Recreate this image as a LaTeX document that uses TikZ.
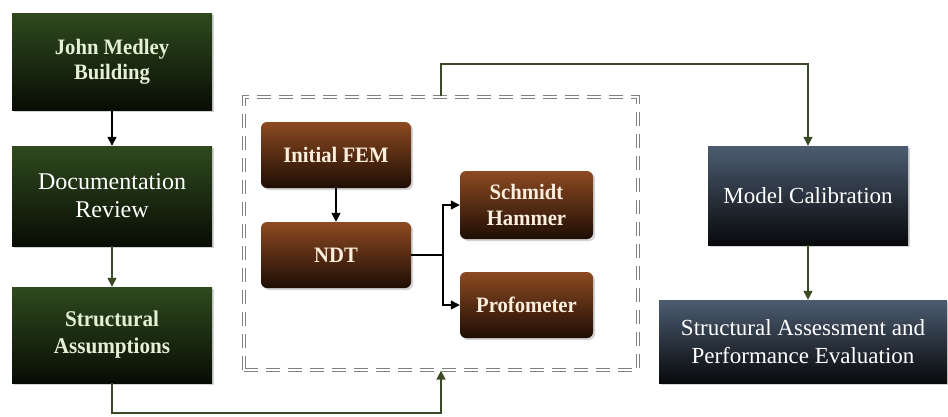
\documentclass[tikz,border=0pt]{standalone}
\usepackage{fontspec}
\setmainfont{Liberation Serif}
\usetikzlibrary{arrows.meta,shadows}

\definecolor{greentop}{HTML}{2F4A1E}
\definecolor{greenbot}{HTML}{080C04}
\definecolor{browntop}{HTML}{8C4A22}
\definecolor{brownbot}{HTML}{1E0D04}
\definecolor{bluetop}{HTML}{4C5C70}
\definecolor{bluebot}{HTML}{08090C}
\definecolor{olive}{HTML}{3A4A26}
\definecolor{greentext}{HTML}{E4F0D6}
\definecolor{browntext}{HTML}{FBEEDC}

% slightly condensed bold face for the box captions
\newfontfamily\captionbold[FakeStretch=0.94]{Liberation Serif}

\tikzset{
  boxshadow/.style={drop shadow={opacity=0.35,shadow xshift=2pt,shadow yshift=-2pt}},
  greenbox/.style={boxshadow, top color=greentop, bottom color=greenbot, draw=none,
    text=greentext, align=center, minimum width=200pt, inner sep=0pt},
  brownbox/.style={boxshadow, rounded corners=6pt, top color=browntop, bottom color=brownbot,
    draw=none, text=browntext, align=center, inner sep=0pt,
    font=\captionbold\fontsize{22}{26}\selectfont\bfseries},
  bluebox/.style={boxshadow, top color=bluetop, bottom color=bluebot, draw=none,
    text=white, align=center, inner sep=0pt, font=\fontsize{23}{28}\selectfont},
  flow/.style={line width=1.4pt, draw=olive, -{Triangle[length=9pt,width=9pt]}},
  flowblack/.style={line width=1.4pt, draw=black, -{Triangle[length=9pt,width=9pt]}},
  groupframe/.style={draw=black!50, double=white, double distance=1.1pt, line width=1.2pt,
    dash pattern=on 14pt off 8pt, minimum width=394pt, minimum height=273pt, inner sep=0pt}
}

\begin{document}
\begin{tikzpicture}[x=1pt,y=-1pt]
\useasboundingbox (0,0) rectangle (948,416);

% left column
\node[greenbox, minimum height=97pt, font=\captionbold\fontsize{22}{25}\selectfont\bfseries] (jmb) at (112,61.5)
  {John Medley\\Building};
\node[greenbox, minimum height=100pt, font=\fontsize{24}{28}\selectfont, text=white] (doc) at (112,196)
  {Documentation\\Review};
\node[greenbox, minimum height=96pt, font=\captionbold\fontsize{22.5}{27}\selectfont\bfseries] (sa) at (112,335)
  {Structural\\Assumptions};

% testing group
\node[groupframe] (grp) at (441,233.5) {};
\node[brownbox, minimum width=150pt, minimum height=66pt] (fem) at (336,155) {Initial FEM};
\node[brownbox, minimum width=150pt, minimum height=66pt] (ndt) at (336,255) {NDT};
\node[brownbox, minimum width=133pt, minimum height=68pt] (sch) at (526.5,205) {Schmidt\\Hammer};
\node[brownbox, minimum width=133pt, minimum height=66pt] (pro) at (526.5,305) {Profometer};

% right column
\node[bluebox, minimum width=200pt, minimum height=99pt] (mc) at (808,195.5) {Model Calibration};
\node[bluebox, minimum width=288pt, minimum height=83pt] (spe) at (803,341.5)
  {Structural Assessment and\\Performance Evaluation};

\coordinate (split) at (443,255);
\coordinate (low) at (112,413);
\coordinate (high) at (441,64);

% connectors
\draw[flowblack] (jmb) -- (doc);
\draw[flow] (doc) -- (sa);
\draw[flow] (sa.south) -- (low) -| (grp.south);
\draw[flow] (grp.north) -- (high) -| (mc.north);
\draw[flow] (mc.south) -- (mc.south |- spe.north);
\draw[flowblack] (fem) -- (ndt);
\draw[line width=1.4pt] (ndt.east) -- (split);
\draw[flowblack] (split) |- (sch.west);
\draw[flowblack] (split) |- (pro.west);
\end{tikzpicture}
\end{document}
